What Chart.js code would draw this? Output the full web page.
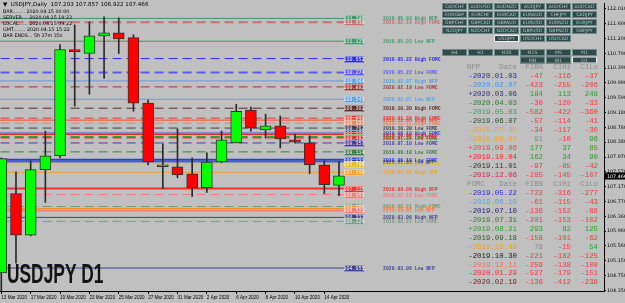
<!DOCTYPE html>
<html>
<head>
<meta charset="utf-8">
<script src="https://cdn.jsdelivr.net/npm/chart.js@4.4.1/dist/chart.umd.min.js"></script>
<style>
  html, body { margin: 0; padding: 0; background: #c0c0c0; }
  canvas { display: block; }
</style>
</head>
<body>
<canvas id="chart" width="625" height="303"></canvas>
<script>
// candles, one per daily bar
const candleDates = ['13 Mar 2020', '16 Mar 2020', '17 Mar 2020', '18 Mar 2020', '19 Mar 2020', '20 Mar 2020',
    '23 Mar 2020', '24 Mar 2020', '25 Mar 2020', '26 Mar 2020', '27 Mar 2020', '30 Mar 2020',
    '31 Mar 2020', '1 Apr 2020', '2 Apr 2020', '3 Apr 2020', '6 Apr 2020', '7 Apr 2020',
    '8 Apr 2020', '9 Apr 2020', '10 Apr 2020', '13 Apr 2020', '14 Apr 2020', '15 Apr 2020'];
const openP  = [104.82, 106.98, 105.85, 107.63, 108.01, 110.90, 110.79, 111.27, 111.35, 111.22, 109.44, 107.71,
                107.71, 107.52, 107.14, 107.84, 108.36, 109.25, 108.71, 108.82, 108.44, 108.36, 107.76, 107.203];
const highP  = [107.95, 107.57, 107.87, 108.68, 111.03, 111.57, 111.65, 111.79, 111.76, 111.30, 109.52, 108.33,
                108.74, 107.95, 108.09, 108.68, 109.41, 109.33, 109.14, 109.09, 108.60, 108.55, 107.87, 107.857];
const lowP   = [103.90, 105.09, 105.83, 106.74, 107.95, 109.36, 109.68, 110.11, 110.79, 109.22, 107.76, 107.12,
                107.41, 106.90, 107.01, 107.82, 108.36, 108.68, 108.49, 108.22, 108.36, 107.52, 106.98, 106.922];
const closeP = [107.93, 105.85, 107.63, 108.01, 110.90, 110.84, 111.27, 111.35, 111.19, 109.44, 107.84, 107.74,
                107.49, 107.14, 107.84, 108.44, 109.22, 108.76, 108.82, 108.47, 108.38, 107.76, 107.22, 107.466];

// axis labels
const xTickIdx = [0, 2, 4, 6, 8, 10, 12, 14, 16, 18, 20, 22];
const yTicks = [112.010, 111.600, 111.200, 110.790, 110.390, 109.990, 109.590, 109.180, 108.780, 108.380,
                107.970, 107.570, 107.170, 106.770, 106.360, 105.960, 105.560, 105.150, 104.750, 104.350];

// event levels (price, colour, dashed, label)
const levelPrice = [111.746, 111.638, 111.125, 110.652, 110.274, 110.044, 109.882, 109.545, 109.302, 109.032,
                    108.978, 108.897, 108.762, 108.627, 108.586, 108.519, 108.492, 108.357, 108.114, 107.898,
                    107.844, 107.790, 107.560, 107.115, 106.953, 106.629, 106.575, 106.521, 106.332, 106.224, 104.955];
const levelColor = ['#3c9a6c', '#c07070', '#3c9a6c', '#2a2ae8', '#5a5af0', '#58a0e8', '#9a3a3a', '#58a0e8', '#5a2a2a', '#e83030',
                    '#f05030', '#f08060', '#404040', '#3050e0', '#e02020', '#30a030', '#e03030', '#4a3a9a', '#3a7a4a', '#2040e0',
                    '#303080', '#e0c030', '#f0a030', '#f03030', '#f07a7a', '#6a9a7a', '#f09030', '#f08070', '#404080', '#7a9a8a', '#404090'];
const levelDashed = [false, true, false, true, true, false, true, false, true, true,
                     false, true, true, false, false, true, true, true, true, false,
                     false, false, false, false, true, true, false, false, false, true, false];
const levelWidth = [1, 2, 1, 1, 2, 1, 1, 1, 1, 1,
                    1, 1, 1, 1, 1, 2, 1, 1, 1, 2,
                    1, 1, 1, 2, 1, 1, 1, 2, 1, 1, 1];
const levelText = ['2019.05.03 High NFP', '2020.02.19 High FOMC', '2019.05.03 Low NFP', '2019.05.22 High FOMC', '2019.05.22 Low FOMC',
                   '2020.02.07 High NFP', '2020.02.19 Low FOMC', '2020.02.07 Low NFP', '2019.10.30 High FOMC', '2020.01.29 High FOMC',
                   '2019.12.06 High NFP', '2019.12.11 High FOMC', '2019.10.30 Low FOMC', '2019.06.19 High FOMC', '2019.10.04 High NFP',
                   '2019.07.31 Low FOMC', '2020.01.29 Low FOMC', '2019.07.10 Low FOMC', '2019.09.18 Low FOMC', '2019.06.19 Low FOMC',
                   '2020.01.03 Low NFP', '2019.10.09 High FOMC', '2019.08.02 High NFP', '2019.09.06 High NFP', '2019.12.11 Low FOMC',
                   '2019.08.21 High FOMC', '2019.10.04 Low NFP', '2019.08.02 Low NFP', '2020.03.06 High NFP', '2019.08.21 Low FOMC',
                   '2020.03.06 Low NFP'];

// statistics table
const nfpDates  = ['-2020.01.03', '-2020.02.07', '+2020.03.06', '-2020.04.03', '-2019.05.03', '-2019.06.07',
                   '-2019.07.05', '=2019.08.02', '+2019.09.06', '+2019.10.04', '-2019.11.01', '-2019.12.06'];
const nfpColors = ['#2424a8', '#4a90e2', '#303080', '#2f7a2f', '#3c9a6c', '#2f4f2f',
                   '#f0a030', '#f0a030', '#e04848', '#ff2020', '#303030', '#d02050'];
const nfpFib  = [-47, -423, 184, -30, -582, -57, -34, 91, 177, 162, -97, -285];
const nfpC1Hi = [-116, -255, 113, -120, -422, -114, -117, -10, 37, 34, -85, -145];
const nfpC1Lo = [-37, -206, 248, -33, -360, -41, -30, 96, 85, 90, -42, -107];
const fomcDates  = ['-2019.05.22', '-2019.06.19', '-2019.07.10', '-2019.07.31', '+2019.08.21', '-2019.09.18',
                    '=2019.10.09', '-2019.10.30', '-2019.12.11', '-2020.01.29', '-2020.02.19'];
const fomcColors = ['#2a2ae8', '#58a0e8', '#24247a', '#2f7a2f', '#30a030', '#2f5a2f',
                    '#f0a020', '#202020', '#f07050', '#f03030', '#7a2020'];
const fomcFib  = [-722, -61, -136, -201, 293, -158, 78, -221, -259, -527, -136];
const fomcC1Hi = [-316, -115, -152, -153, 82, -101, -15, -182, -138, -179, -412];
const fomcC1Lo = [-277, -43, -88, -102, 125, -62, 54, -125, -100, -151, -238];

// symbol / timeframe buttons
const pairRows = [
    ['CADCHF', 'AUDUSD', 'AUDNZD', 'AUDJPY', 'AUDCHF', 'AUDCAD'],
    ['EURGBP', 'EURCHF', 'EURCAD', 'EURAUD', 'CHFJPY', 'CADJPY'],
    ['GBPCHF', 'GBPCAD', 'GBPAUD', 'EURUSD', 'EURNZD', 'EURJPY'],
    ['NZDJPY', 'NZDCHF', 'NZDCAD', 'GBPUSD', 'GBPNZD', 'GBPJPY'],
    ['', '', 'USDJPY', 'USDCHF', 'USDCAD', '']
];
const tfRows = [
    ['H4', 'H1', 'M30', 'M15', 'M5', 'M1'],
    ['', '', '', 'MN', 'W1', 'D1']
];

const infoLines = ['BAR........ 2020.04.15 00:00', 'SERVER.... 2020.04.15 18:23', 'LOCAL...... 2020.04.15 09:22',
                   'GMT........ 2020.04.15 15:22', 'BAR ENDS... 5h 37m 35s'];

const BULL = '#00ff00';
const BEAR = '#ff0000';
const EDGE = '#303030';

function valColor(v, isFib) {
    if (v < 0) return '#f03c3c';
    if (isFib && v < 100) return '#858585';
    return '#2e9a2e';
}

const overlay = {
    id: 'overlay',
    afterDatasetsDraw(chart) {
        const ctx = chart.ctx;
        const y = chart.scales.y;
        ctx.save();
        levelPrice.forEach((p, i) => {
            const py = Math.round(y.getPixelForValue(p)) + 0.5;
            // price tag
            ctx.fillStyle = levelColor[i];
            ctx.fillRect(344, py - 3.5, 20, 7);
            ctx.strokeStyle = '#e8e8e8';
            ctx.lineWidth = 0.5;
            ctx.strokeRect(344.5, py - 3, 19, 6);
            ctx.fillStyle = '#f4f4f4';
            ctx.font = '5px "Liberation Mono"';
            ctx.textAlign = 'center';
            ctx.textBaseline = 'middle';
            ctx.fillText(p.toFixed(3), 354, py + 0.3);
            // event label
            ctx.fillStyle = levelColor[i];
            ctx.font = 'bold 4.8px "Liberation Mono"';
            ctx.textAlign = 'left';
            ctx.fillText(levelText[i], 383, py + 0.3);
        });
        ctx.restore();
    },
    afterDraw(chart) {
        const ctx = chart.ctx;
        const y = chart.scales.y;
        ctx.save();

        // info block
        ctx.fillStyle = '#000';
        ctx.textBaseline = 'middle';
        ctx.textAlign = 'left';
        ctx.font = '5.6px "DejaVu Sans"';
        ctx.fillText('\u25BC  USDJPY,Daily  107.203 107.857 106.922 107.466', 3, 5);
        ctx.font = '4.8px "DejaVu Sans"';
        infoLines.forEach((t, i) => ctx.fillText(t, 3, 11.5 + i * 6));

        // big symbol label
        ctx.save();
        ctx.translate(7, 283);
        ctx.scale(0.62, 1);
        ctx.font = 'bold 28px "Liberation Sans"';
        ctx.fillStyle = '#141414';
        ctx.textBaseline = 'alphabetic';
        ctx.fillText('USDJPY D1', 0, 0);
        ctx.restore();

        // buttons
        const drawBtn = (x, by, text, selected) => {
            ctx.fillStyle = '#2f4a48';
            ctx.fillRect(x, by, 25, 7);
            ctx.strokeStyle = selected ? '#f0f0f0' : '#6f8a88';
            ctx.lineWidth = 1;
            ctx.strokeRect(x + 0.5, by + 0.5, 24, 6);
            ctx.fillStyle = '#b8c4c4';
            ctx.font = '4.6px "DejaVu Sans"';
            ctx.textAlign = 'center';
            ctx.textBaseline = 'middle';
            ctx.fillText(text, x + 12.5, by + 3.8);
        };
        pairRows.forEach((row, r) => row.forEach((t, c) => {
            if (t) drawBtn(442 + c * 26, 3 + r * 8, t, t === 'USDJPY');
        }));
        tfRows.forEach((row, r) => row.forEach((t, c) => {
            if (t) drawBtn(442 + c * 26, 49 + r * 7.5, t, t === 'D1');
        }));

        // table
        ctx.font = '7.4px "Liberation Mono"';
        ctx.textBaseline = 'middle';
        const drawBlock = (title, y0, dates, colors, fib, hi, lo) => {
            ctx.fillStyle = '#8c8c8c';
            ctx.textAlign = 'left';
            ctx.fillText(title, 467, y0);
            ctx.textAlign = 'right';
            ctx.fillText('Date', 517, y0);
            ctx.fillText('FIB%', 543, y0);
            ctx.fillText('C1Hi', 571, y0);
            ctx.fillText('C1Lo', 598, y0);
            dates.forEach((d, i) => {
                const ry = y0 + 8.95 * (i + 1);
                ctx.textAlign = 'right';
                ctx.fillStyle = colors[i];
                ctx.fillText(d, 517, ry);
                ctx.fillStyle = valColor(fib[i], true);
                ctx.fillText(String(fib[i]), 543, ry);
                ctx.fillStyle = valColor(hi[i], false);
                ctx.fillText(String(hi[i]), 571, ry);
                ctx.fillStyle = valColor(lo[i], false);
                ctx.fillText(String(lo[i]), 598, ry);
            });
        };
        drawBlock('NFP', 67.5, nfpDates, nfpColors, nfpFib, nfpC1Hi, nfpC1Lo);
        drawBlock('FOMC', 184, fomcDates, fomcColors, fomcFib, fomcC1Hi, fomcC1Lo);

        // current price box
        const last = closeP[closeP.length - 1];
        const py = Math.round(y.getPixelForValue(last));
        ctx.fillStyle = '#000';
        ctx.fillRect(605, py - 3.5, 20, 7);
        ctx.fillStyle = '#fff';
        ctx.font = '4.8px "DejaVu Sans"';
        ctx.textAlign = 'left';
        ctx.fillText(last.toFixed(3), 607, py + 0.3);
        ctx.restore();
    }
};

const idx = candleDates.map((d, i) => i);

const datasets = [
    {
        type: 'bar',
        data: idx.map(i => ({ x: i, y: [openP[i], closeP[i]] })),
        backgroundColor: idx.map(i => closeP[i] >= openP[i] ? BULL : BEAR),
        borderColor: EDGE,
        borderWidth: 1,
        borderSkipped: false,
        barThickness: 11,
        minBarLength: 2,
        grouped: false,
        order: 1
    },
    {
        type: 'bar',
        data: idx.map(i => ({ x: i, y: [lowP[i], highP[i]] })),
        backgroundColor: '#2a2a2a',
        borderWidth: 0,
        barThickness: 1,
        grouped: false,
        order: 2
    }
];
levelPrice.forEach((p, i) => {
    datasets.push({
        type: 'line',
        data: [{ x: -1, y: p }, { x: 23.34, y: p }],
        borderColor: levelColor[i],
        borderWidth: levelWidth[i],
        borderDash: levelDashed[i] ? [9, 5] : [],
        pointRadius: 0,
        order: 10
    });
});

new Chart(document.getElementById('chart'), {
    type: 'bar',
    data: { datasets },
    options: {
        responsive: false,
        animation: false,
        devicePixelRatio: 1,
        layout: { padding: { top: 2, left: 0, right: 0, bottom: 0 } },
        plugins: { legend: { display: false }, tooltip: { enabled: false } },
        scales: {
            x: {
                type: 'linear',
                offset: false,
                min: -0.089,
                max: 41.05,
                afterBuildTicks: axis => { axis.ticks = xTickIdx.map(v => ({ value: v })); },
                afterFit: axis => { axis.height = 12; },
                ticks: {
                    callback: v => candleDates[v] || '',
                    align: 'start',
                    maxRotation: 0,
                    autoSkip: false,
                    padding: 1,
                    color: '#000',
                    font: { family: 'Liberation Sans', size: 4.6 }
                },
                grid: { display: true, drawOnChartArea: false, offset: false, tickLength: 3, color: '#000' },
                border: { display: true, color: '#000', width: 1 }
            },
            y: {
                type: 'linear',
                position: 'right',
                min: 104.33,
                max: 112.14,
                afterBuildTicks: axis => { axis.ticks = yTicks.map(v => ({ value: v })); },
                afterFit: axis => { axis.width = 21; },
                ticks: {
                    callback: v => v.toFixed(3),
                    padding: 1,
                    color: '#000',
                    font: { family: 'DejaVu Sans', size: 4.8 }
                },
                grid: { display: true, drawOnChartArea: false, tickLength: 2, color: '#000' },
                border: { display: true, color: '#000', width: 1 }
            }
        }
    },
    plugins: [overlay]
});
</script>
</body>
</html>
